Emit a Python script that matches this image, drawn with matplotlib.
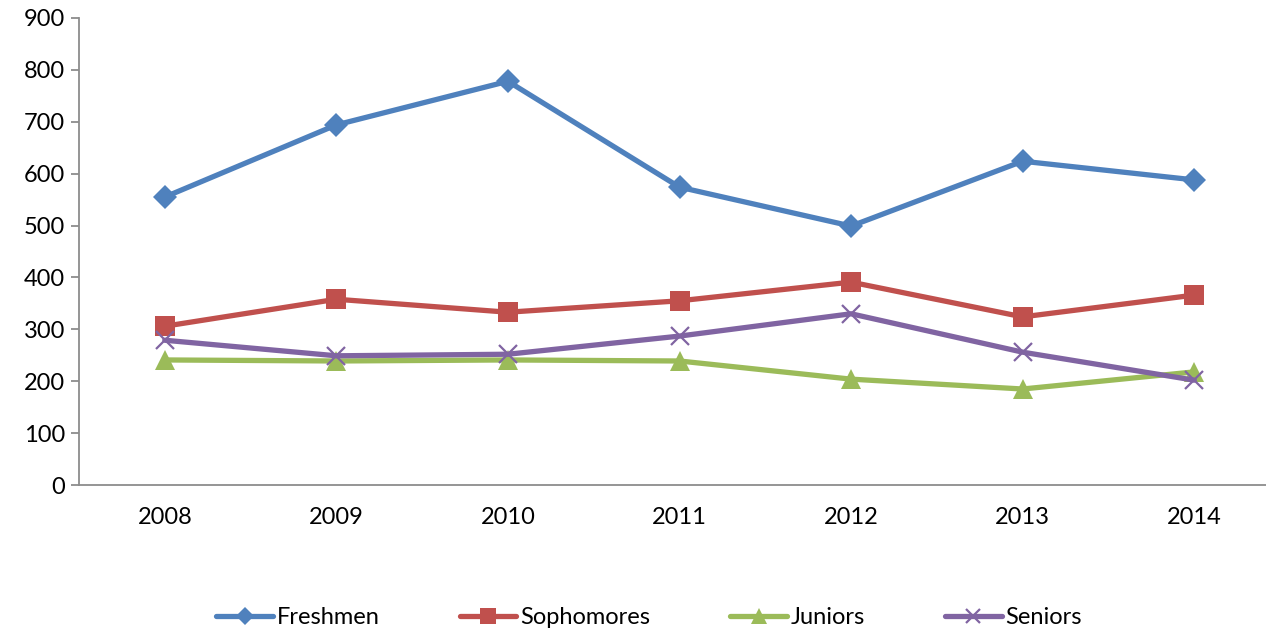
import matplotlib
matplotlib.use("Agg")
import matplotlib.pyplot as plt
from matplotlib.lines import Line2D

years = ["2008", "2009", "2010", "2011", "2012", "2013", "2014"]
freshmen = [555, 694, 778, 574, 499, 624, 588]
sophomores = [306, 358, 333, 355, 391, 324, 366]
juniors = [241, 239, 241, 239, 204, 185, 218]
seniors = [279, 249, 252, 287, 330, 256, 202]
yticks = [0, 100, 200, 300, 400, 500, 600, 700, 800, 900]

plt.rcParams['font.family'] = ['Lato', 'DejaVu Sans']

W, H = 1266, 633
fig = plt.figure(figsize=(W / 100, H / 100), dpi=100)
ax = fig.add_axes([79 / W, 148 / H, 1201 / W, 467 / H])

x = list(range(len(years)))
series = [
    ("Freshmen", freshmen, "#4F81BD", "D", 12, 0),
    ("Sophomores", sophomores, "#C0504D", "s", 14, 0),
    ("Juniors", juniors, "#9BBB59", "^", 15, 0),
    ("Seniors", seniors, "#8064A2", "x", 13, 1.6),
]
handles = []
for name, vals, col, mk, ms, mew in series:
    kw = dict(color=col, lw=3.8, marker=mk, markersize=ms, markerfacecolor=col,
              markeredgecolor=col, solid_capstyle='round', solid_joinstyle='round')
    kw['markeredgewidth'] = mew
    ax.plot(x, vals, label=name, **kw)
    hkw = dict(kw)
    hkw['markersize'] = ms * 0.8
    handles.append(Line2D([0], [0], **hkw))

ax.set_xlim(-0.5, len(years) - 0.5)
ax.set_ylim(0, 900)
ax.set_yticks(yticks)
ax.set_xticks(x)
ax.set_xticklabels(years)
for s in ['top', 'right']:
    ax.spines[s].set_visible(False)
for s in ['left', 'bottom']:
    ax.spines[s].set_color('#8C8C8C')
    ax.spines[s].set_linewidth(1.3)
ax.tick_params(axis='y', length=6, width=1.3, color='#8C8C8C', labelsize=17, pad=4)
ax.tick_params(axis='x', length=0, labelsize=17, pad=16)

fig.legend(handles, [s[0] for s in series], loc='center', bbox_to_anchor=(649 / W, 1 - 618 / H),
           ncol=4, frameon=False, fontsize=17, handlelength=2.4, columnspacing=3.4,
           handletextpad=0.15)

fig.savefig("out.png", dpi=100)
